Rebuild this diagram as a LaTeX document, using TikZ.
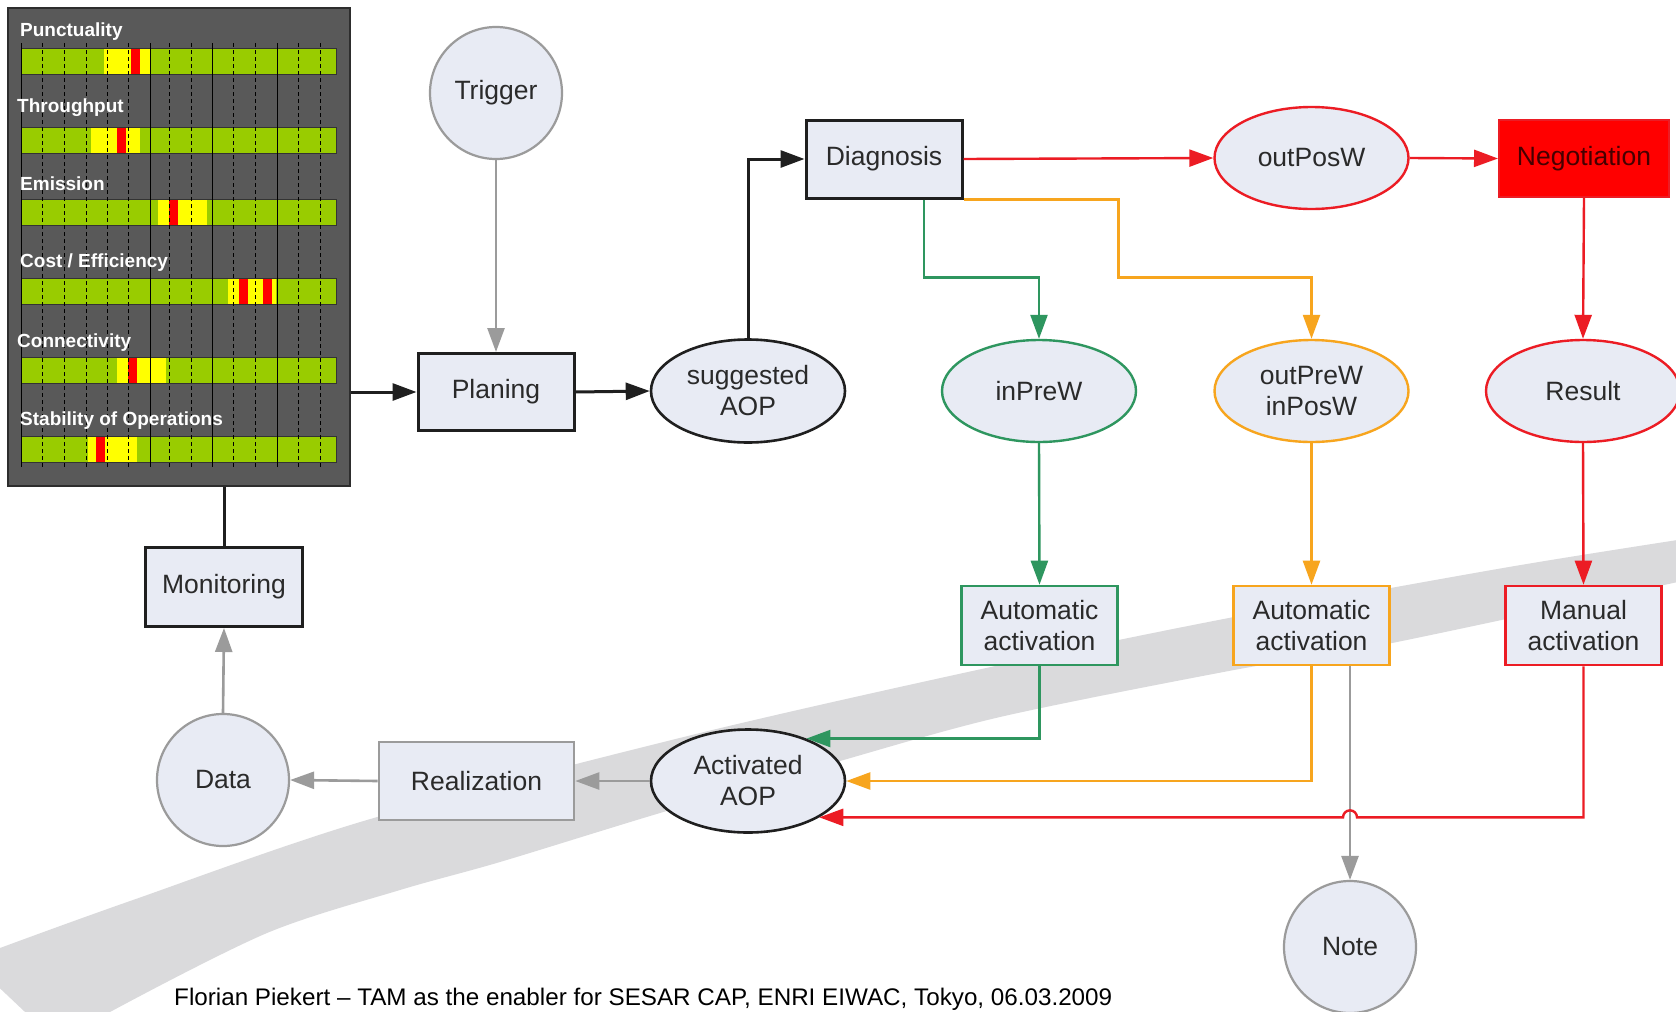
\documentclass[tikz,border=0pt]{standalone}
\usepackage{fontspec}
\usepackage{graphicx}
\setmainfont{Liberation Sans}
\usetikzlibrary{arrows.meta,shapes.geometric,calc}

\definecolor{nodefill}{RGB}{232,235,244}
\definecolor{txt}{RGB}{42,42,42}
\definecolor{linegray}{RGB}{155,155,155}
\definecolor{bandgray}{RGB}{218,218,220}
\definecolor{panelgray}{RGB}{89,89,89}
\definecolor{paneledge}{RGB}{45,45,45}
\definecolor{barGreen}{RGB}{153,204,0}
\definecolor{barYellow}{RGB}{255,255,0}
\definecolor{barRed}{RGB}{255,0,0}
\definecolor{flowGreen}{RGB}{46,150,95}
\definecolor{flowOrange}{RGB}{247,165,30}
\definecolor{flowRed}{RGB}{236,28,36}
\definecolor{negoText}{RGB}{70,0,0}

\newcommand\lblfont{\fontsize{26.5}{31}\selectfont}
\newcommand\kpifont{\fontsize{19}{22}\selectfont\bfseries}

\tikzset{
  base/.style={font=\lblfont, text=txt, fill=nodefill, align=center, inner sep=0pt},
  blackbox/.style={base, rectangle, draw=black!88, line width=3pt},
  blackell/.style={base, ellipse, draw=black!88, line width=2.6pt,
    minimum width=194pt, minimum height=103pt},
  graycirc/.style={base, circle, draw=linegray, line width=2.2pt, minimum size=132pt},
  graybox/.style={base, rectangle, draw=linegray, line width=2.6pt},
  colell/.style={base, ellipse, draw=#1, line width=2.4pt,
    minimum width=194pt, minimum height=102pt},
  colbox/.style={base, rectangle, draw=#1, line width=2.6pt,
    minimum width=156pt, minimum height=79pt},
  tip/.style={-{Triangle[length=24pt,width=17pt]}},
  blkline/.style={draw=black!88, line width=3pt},
  grayline/.style={draw=linegray, line width=2.6pt},
  colline/.style={draw=#1, line width=2.4pt},
  kpi/.style={anchor=base west, text=white, font=\kpifont, inner sep=0pt},
  barframe/.style={draw=black!80, line width=1pt},
}

\begin{document}
\begin{tikzpicture}[x=1pt,y=-1pt]
\useasboundingbox (0,0) rectangle (1676,1012);
\clip (0,0) rectangle (1676,1012);
\fill[white] (0,0) rectangle (1676,1012);

% sweeping grey band in the background
\fill[bandgray]
  plot[smooth] coordinates {(-30,960) (0,948) (133,900) (367,820) (700,733)
                            (1000,665) (1234,617) (1509,567) (1710,535)}
  -- plot[smooth] coordinates {(1710,575) (1392,643) (1234,670) (1000,717)
                            (833,763) (660,813) (500,862) (400,890) (267,933)
                            (110,1012) (60,1045)}
  -- cycle;

% KPI panel
\node[fill=panelgray, draw=paneledge, line width=1.5pt, anchor=north west,
      minimum width=342pt, minimum height=478pt, inner sep=0pt] (panel) at (7,7) {};

\foreach \y in {48,127,199,278,357,436}
  \fill[barGreen] (21,\y) rectangle (336,\y+26.5);

% yellow and red ranges on each bar
\fill[barYellow] (104,48) rectangle (151,74.5);  \fill[barRed] (131,48) rectangle (140,74.5);
\fill[barYellow] (91,127) rectangle (140,153.5); \fill[barRed] (117,127) rectangle (126,153.5);
\fill[barYellow] (158,199) rectangle (207,225.5);\fill[barRed] (169,199) rectangle (178,225.5);
\fill[barYellow] (228,278) rectangle (276,304.5);\fill[barRed] (239,278) rectangle (248,304.5);
\fill[barRed] (263,278) rectangle (272,304.5);
\fill[barYellow] (117,357) rectangle (166,383.5);\fill[barRed] (128,357) rectangle (137,383.5);
\fill[barYellow] (88,436) rectangle (137,462.5); \fill[barRed] (96,436) rectangle (105,462.5);

\foreach \y in {48,127,199,278,357,436}
  \draw[barframe] (21,\y) rectangle (336,\y+26.5);

% time grid
\foreach \x in {21,150,212,277}
  \draw[black, line width=1pt] (\x,43) -- (\x,467);
\foreach \x in {42,64,86,107,128,169,191,233,255,298,320}
  \draw[black, line width=0.9pt, dash pattern=on 4pt off 3pt] (\x,43) -- (\x,467);

\node[kpi] (k1) at (20,36)  {Punctuality};
\node[kpi] (k2) at (17,112) {Throughput};
\node[kpi] (k3) at (20,190) {Emission};
\node[kpi] (k4) at (20,267) {Cost / Efficiency};
\node[kpi] (k5) at (17,347) {Connectivity};
\node[kpi] (k6) at (20,425) {Stability of Operations};

% process nodes
\node[graycirc] (trig) at (496,93) {Trigger};
\node[blackbox, minimum width=156pt, minimum height=77pt] (plan) at (496,392) {Planing};
\node[blackell] (sug) at (748,391) {suggested\\AOP};
\node[blackbox, minimum width=156pt, minimum height=78pt] (diag) at (884,159) {Diagnosis};
\node[colell=flowRed] (outpos) at (1311.5,158) {outPosW};
\node[base, rectangle, fill=barRed, draw=flowRed, line width=2pt, text=negoText,
      minimum width=170pt, minimum height=77pt] (nego) at (1584,158.5) {Negotiation};
\node[colell=flowGreen] (inpre) at (1039,391) {inPreW};
\node[colell=flowOrange] (outpre) at (1311.5,391) {outPreW\\inPosW};
\node[colell=flowRed] (res) at (1583,391) {Result};
\node[colbox=flowGreen] (autog) at (1039.5,625.5) {Automatic\\activation};
\node[colbox=flowOrange] (autoo) at (1311.5,625.5) {Automatic\\activation};
\node[colbox=flowRed] (man) at (1583.5,625.5) {Manual\\activation};
\node[blackbox, minimum width=157pt, minimum height=79pt] (mon) at (224,587) {Monitoring};
\node[graycirc] (data) at (223,780) {Data};
\node[graybox, minimum width=195pt, minimum height=78pt] (real) at (476.5,781) {Realization};
\node[blackell] (act) at (748,781) {Activated\\AOP};
\node[graycirc] (note) at (1350,947) {Note};

% black flow
\draw[blkline, tip] (panel.east |- plan.west) -- (plan.west);
\draw[blkline, tip] (plan.east) -- (sug.west);
\draw[blkline, tip] (sug.north) |- (diag.west);
\draw[blkline] (mon.north) -- (mon.north |- panel.south);

% grey flow
\draw[grayline, tip] (trig.south) -- (plan.north);
\draw[grayline, tip] (act.west) -- (real.east);
\draw[grayline, tip] (real.west) -- (data.east);
\draw[grayline, tip] (data.north) -- (mon.south);
\draw[grayline, tip] (autoo.south -| note.north) -- (note.north);

% red branch
\draw[colline=flowRed, tip] (diag.east) -- (outpos.west);
\draw[colline=flowRed, tip] (outpos.east) -- (nego.west);
\draw[colline=flowRed, tip] (nego.south) -- (res.north);
\draw[colline=flowRed, tip] (res.south) -- (man.north);
\coordinate (hopR) at ($(note.north |- act.-27)+(7,0)$);
\draw[colline=flowRed, tip] (man.south) |- (hopR)
  arc[start angle=0, end angle=-180, radius=7] -- (act.-27);

% green branch
\coordinate (gstart) at ($(diag.south west)!0.75!(diag.south east)$);
\draw[colline=flowGreen, tip] (gstart) -- ++(0,78) -| (inpre.north);
\draw[colline=flowGreen, tip] (inpre.south) -- (autog.north);
\draw[colline=flowGreen, tip] (autog.south) |- (act.36);

% orange branch
\draw[colline=flowOrange, tip] (diag.south east) -- ++(155,0) -- ++(0,78) -| (outpre.north);
\draw[colline=flowOrange, tip] (outpre.south) -- (autoo.north);
\draw[colline=flowOrange, tip] (autoo.south) |- (act.east);

% footer
\node[anchor=base west, text=black, font=\fontsize{24}{28}\selectfont, inner sep=0pt] (foot)
  at (174,1005) {\resizebox{938pt}{\height}{Florian Piekert – TAM as the enabler for SESAR CAP, ENRI EIWAC, Tokyo, 06.03.2009}};
\end{tikzpicture}
\end{document}
